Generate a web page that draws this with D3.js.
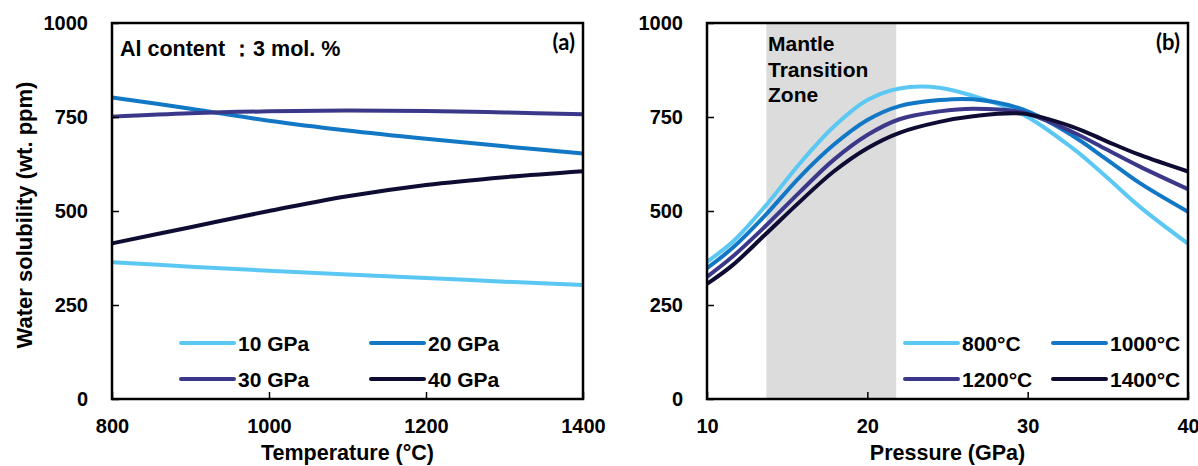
<!DOCTYPE html>
<html>
<head>
<meta charset="utf-8">
<script src="https://cdn.jsdelivr.net/npm/d3@7"></script>
<style>
  body { margin: 0; background: #fff; }
  text { font-family: "Liberation Sans", Arial, sans-serif; font-weight: bold; fill: #000; }
</style>
</head>
<body>
<div id="chart"></div>
<script>
// panel (a): solubility vs temperature
var temps = [800, 900, 1000, 1100, 1200, 1300, 1400];
var gpa10 = [364, 352, 341, 331, 322, 312, 303];
var gpa20 = [802, 772, 740, 714, 692, 672, 653];
var gpa30 = [751, 760, 765, 767, 766, 762, 757];
var gpa40 = [414, 457, 500, 539, 569, 590, 606];
var seriesA = ["10 GPa", "20 GPa", "30 GPa", "40 GPa"];

// panel (b): solubility vs pressure
var pressures = [10, 11.6, 13.6, 15.8, 17.9, 20, 22, 24.5, 26.6, 29.7, 32.8, 34.9, 37, 40];
var t800  = [365, 418, 511, 627, 724, 795, 826, 828, 806, 757, 667, 591, 511, 413];
var t1000 = [348, 402, 487, 591, 676, 742, 779, 795, 797, 770, 700, 638, 574, 498];
var t1200 = [325, 379, 458, 551, 636, 702, 744, 765, 772, 762, 710, 664, 618, 558];
var t1400 = [306, 356, 436, 525, 605, 667, 708, 737, 752, 759, 724, 686, 649, 605];
var seriesB = ["800°C", "1000°C", "1200°C", "1400°C"];

// mantle transition zone band (GPa)
var mtz = [13.7, 21.8];

var tempTicks = [800, 1000, 1200, 1400];
var pressTicks = [10, 20, 30, 40];
var solTicks = [0, 250, 500, 750, 1000];

var colors = ["#5bc8f4", "#1278c6", "#3b388a", "#0e0c33"];

var svg = d3.select("#chart")
  .append("svg")
    .attr("width", 1198)
    .attr("height", 466);

var top0 = 23, bottom0 = 399;

function drawPanel(opt) {
  var g = svg.append("g")
    .attr("transform", "translate(" + opt.left + ",0)");
  var w = opt.right - opt.left;

  var x = d3.scaleLinear().domain(opt.xDomain).range([0, w]);
  var y = d3.scaleLinear().domain([0, 1000]).range([bottom0, top0]);

  if (opt.band) {
    g.append("rect")
      .attr("x", x(opt.band[0]))
      .attr("y", top0)
      .attr("width", x(opt.band[1]) - x(opt.band[0]))
      .attr("height", bottom0 - top0)
      .style("fill", "#dcdcdc");
  }

  // lines
  var line = d3.line()
    .x(function(d) { return x(d[0]); })
    .y(function(d) { return y(d[1]); })
    .curve(d3.curveCatmullRom.alpha(0.5));

  opt.series.forEach(function(vals, i) {
    g.append("path")
      .datum(opt.xs.map(function(v, j) { return [v, vals[j]]; }))
      .attr("d", line)
      .style("fill", "none")
      .style("stroke", colors[i])
      .style("stroke-width", 4);
  });

  // axes with inner ticks
  var xAxis = d3.axisBottom(x)
    .tickValues(opt.xTicks)
    .tickFormat(d3.format("d"))
    .tickSizeInner(-7)
    .tickSizeOuter(0)
    .tickPadding(20);
  var gx = g.append("g")
    .attr("transform", "translate(0," + bottom0 + ")")
    .call(xAxis);

  var yAxis = d3.axisLeft(y)
    .tickValues(solTicks)
    .tickFormat(d3.format("d"))
    .tickSizeInner(-7)
    .tickSizeOuter(0)
    .tickPadding(24);
  var gy = g.append("g").call(yAxis);

  [gx, gy].forEach(function(a) {
    a.select(".domain").remove();
    a.selectAll("line").style("stroke", "#000").style("stroke-width", 1.5);
    a.selectAll("text")
      .style("font-size", "20px")
      .style("font-family", "'Liberation Sans', Arial, sans-serif")
      .style("font-weight", "bold");
  });

  // frame
  g.append("rect")
    .attr("x", 0)
    .attr("y", top0)
    .attr("width", w)
    .attr("height", bottom0 - top0)
    .style("fill", "none")
    .style("stroke", "#000")
    .style("stroke-width", 2.5);

  // panel tag
  g.append("text")
    .attr("x", w - 8)
    .attr("y", 50)
    .attr("text-anchor", "end")
    .style("font-family", "Lato, 'Open Sans', sans-serif")
    .style("font-size", "22px")
    .text(opt.tag);

  // legend
  var cols = opt.legendCols, rows = [343, 379];
  opt.names.forEach(function(name, i) {
    var lx = cols[i % 2], ly = rows[Math.floor(i / 2)];
    g.append("line")
      .attr("x1", lx).attr("x2", lx + 53)
      .attr("y1", ly).attr("y2", ly)
      .style("stroke", colors[i])
      .style("stroke-width", 4)
      .style("stroke-linecap", "round");
    g.append("text")
      .attr("x", lx + 57)
      .attr("y", ly + 7.5)
      .style("font-size", "21px")
      .text(name);
  });

  // axis title
  g.append("text")
    .attr("x", w / 2)
    .attr("y", 460)
    .attr("text-anchor", "middle")
    .style("font-size", "21.5px")
    .text(opt.xLabel);

  return g;
}

var ga = drawPanel({
  left: 112, right: 583,
  xDomain: [800, 1400], xTicks: tempTicks, xs: temps,
  series: [gpa10, gpa20, gpa30, gpa40],
  names: seriesA, legendCols: [69, 259],
  tag: "(a)", xLabel: "Temperature (°C)"
});

ga.append("text")
  .attr("x", 8)
  .attr("y", 56)
  .style("font-size", "21.5px")
  .text("Al content ：3 mol. %");

var gb = drawPanel({
  left: 707, right: 1188,
  xDomain: [10, 40], xTicks: pressTicks, xs: pressures,
  series: [t800, t1000, t1200, t1400],
  names: seriesB, legendCols: [198, 346],
  band: mtz,
  tag: "(b)", xLabel: "Pressure (GPa)"
});

["Mantle", "Transition", "Zone"].forEach(function(s, i) {
  gb.append("text")
    .attr("x", 61)
    .attr("y", 51 + i * 25.5)
    .style("font-size", "21px")
    .text(s);
});

// y axis title
svg.append("text")
  .attr("transform", "translate(32,215) rotate(-90)")
  .attr("text-anchor", "middle")
  .style("font-size", "22px")
  .text("Water solubility (wt. ppm)");
</script>
</body>
</html>
